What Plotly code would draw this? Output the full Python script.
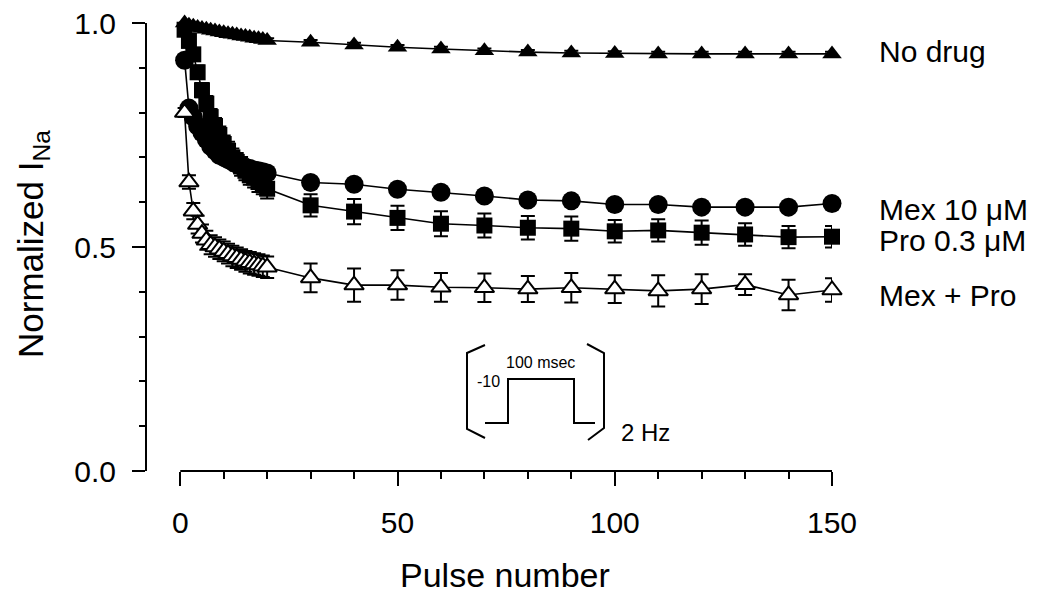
import plotly.graph_objects as go

# ---------------- data ----------------
pulses = list(range(1, 21)) + [30, 40, 50, 60, 70, 80, 90, 100, 110, 120, 130, 140, 150]

no_drug = [1.000, 0.995, 0.993, 0.990, 0.988, 0.986, 0.984, 0.982, 0.980, 0.978,
           0.976, 0.975, 0.973, 0.971, 0.970, 0.968, 0.966, 0.965, 0.963, 0.961,
           0.957, 0.951, 0.946, 0.942, 0.938, 0.935, 0.933, 0.932, 0.931, 0.931,
           0.931, 0.931, 0.931]
no_drug_err = [0.005] * 33

mex = [0.917, 0.810, 0.790, 0.770, 0.755, 0.740, 0.725, 0.715, 0.705, 0.700,
       0.695, 0.690, 0.685, 0.680, 0.678, 0.675, 0.672, 0.670, 0.668, 0.665,
       0.644, 0.640, 0.629, 0.622, 0.614, 0.605, 0.603, 0.595, 0.595, 0.589,
       0.589, 0.589, 0.597]
mex_err = [0.010] * 20 + [0.008] * 13

pro = [0.985, 0.960, 0.930, 0.890, 0.850, 0.820, 0.790, 0.770, 0.750, 0.730,
       0.715, 0.700, 0.690, 0.680, 0.670, 0.660, 0.655, 0.645, 0.640, 0.630,
       0.593, 0.579, 0.565, 0.552, 0.548, 0.543, 0.541, 0.535, 0.537, 0.532,
       0.528, 0.522, 0.523]
pro_err = [0.010, 0.012, 0.014, 0.015, 0.016, 0.017, 0.018, 0.018, 0.019, 0.019,
           0.020, 0.020, 0.020, 0.021, 0.021, 0.021, 0.022, 0.022, 0.022, 0.022,
           0.025, 0.028, 0.027, 0.028, 0.027, 0.026, 0.027, 0.025, 0.025, 0.027,
           0.025, 0.025, 0.024]

mexpro = [0.800, 0.645, 0.580, 0.550, 0.530, 0.515, 0.505, 0.500, 0.495, 0.490,
          0.485, 0.480, 0.476, 0.472, 0.468, 0.465, 0.462, 0.460, 0.457, 0.455,
          0.431, 0.415, 0.415, 0.410, 0.409, 0.406, 0.409, 0.406, 0.402, 0.406,
          0.416, 0.393, 0.404]
mexpro_err = [0.010, 0.015, 0.018, 0.020, 0.020, 0.021, 0.021, 0.022, 0.022, 0.022,
              0.022, 0.023, 0.023, 0.023, 0.023, 0.024, 0.024, 0.024, 0.024, 0.024,
              0.032, 0.037, 0.033, 0.032, 0.032, 0.029, 0.033, 0.031, 0.035, 0.033,
              0.023, 0.034, 0.026]

series_labels = ["No drug", "Mex 10 μM", "Pro 0.3 μM", "Mex + Pro"]
x_ticks = [0, 50, 100, 150]
y_ticks = [0.0, 0.5, 1.0]

# ---------------- layout geometry ----------------
W, H = 1050, 597
ML, MR, MT, MB = 147, 218, 23, 126
PW = W - ML - MR
PH = H - MT - MB
X_RIGHT = 150
X_LEFT = X_RIGHT - PW / 4.345
FONT = "Arial, Liberation Sans, sans-serif"


def px(xpix):
    return (xpix - ML) / PW


def py(ypix):
    return (H - MB - ypix) / PH


fig = go.Figure()


def add_series(y, err, symbol, fill, size, name):
    fig.add_trace(go.Scatter(
        x=pulses, y=y, name=name, mode="lines+markers",
        line=dict(color="black", width=1.6),
        marker=dict(symbol=symbol, size=size, color=fill,
                    line=dict(color="black", width=2 if fill == "white" else 0)),
        error_y=dict(type="data", array=err, visible=True, color="black",
                     thickness=2, width=7),
        cliponaxis=False, showlegend=False,
    ))


add_series(pro, pro_err, "square", "black", 16, series_labels[2])
add_series(mex, mex_err, "circle", "black", 19, series_labels[1])
add_series(no_drug, no_drug_err, "triangle-up", "black", 17, series_labels[0])
add_series(mexpro, mexpro_err, "triangle-up", "white", 17, series_labels[3])

# x axis line (detached style: spans 0..150 only)
fig.add_shape(type="line", xref="x", yref="paper", x0=0, x1=150, y0=0, y1=0,
              line=dict(color="black", width=2))

# series labels on right
label_y = [51, 209, 240, 295]
annotations = []
for lab, yy in zip(series_labels, label_y):
    annotations.append(dict(text=lab, xref="paper", yref="paper", x=px(877), y=py(yy),
                            xanchor="left", yanchor="middle", showarrow=False,
                            font=dict(family=FONT, size=30, color="black")))

# axis titles
annotations.append(dict(text="Pulse number", xref="paper", yref="paper",
                        x=px(505), y=py(575), xanchor="center", yanchor="middle",
                        showarrow=False, font=dict(family=FONT, size=34, color="black")))
annotations.append(dict(text="Normalized I<sub>Na</sub>", xref="paper", yref="paper",
                        x=px(33), y=py(244), xanchor="center", yanchor="middle",
                        textangle=-90, showarrow=False,
                        font=dict(family=FONT, size=35, color="black")))

# ---------------- inset: voltage protocol ----------------
inset_lines = [
    # left bracket
    [(485, 345), (467, 353), (467, 429), (485, 438)],
    # right bracket
    [(587, 344), (604, 353), (604, 428), (588, 440)],
    # pulse
    [(485, 423), (508, 423), (508, 379), (574, 379), (574, 423), (595, 423)],
]
for pts in inset_lines:
    path = "M " + " L ".join(f"{px(a):.5f},{py(b):.5f}" for a, b in pts)
    fig.add_shape(type="path", xref="paper", yref="paper", path=path,
                  line=dict(color="black", width=2))

annotations.append(dict(text="100 msec", xref="paper", yref="paper", x=px(540), y=py(362),
                        xanchor="center", yanchor="middle", showarrow=False,
                        font=dict(family=FONT, size=16, color="black")))
annotations.append(dict(text="-10", xref="paper", yref="paper", x=px(502), y=py(381),
                        xanchor="right", yanchor="middle", showarrow=False,
                        font=dict(family=FONT, size=16, color="black")))
annotations.append(dict(text="2 Hz", xref="paper", yref="paper", x=px(619), y=py(432),
                        xanchor="left", yanchor="middle", showarrow=False,
                        font=dict(family=FONT, size=24, color="black")))

fig.update_layout(
    width=W, height=H,
    margin=dict(l=ML, r=MR, t=MT, b=MB, pad=0, autoexpand=False),
    paper_bgcolor="white", plot_bgcolor="white",
    font=dict(family=FONT, color="black"),
    annotations=annotations,
    xaxis=dict(range=[X_LEFT, X_RIGHT], tickvals=x_ticks, ticks="outside", ticklen=14,
               tickwidth=2, tickcolor="black", showline=False, showgrid=False,
               zeroline=False, tickfont=dict(family=FONT, size=30, color="black"),
               ticklabelstandoff=11, automargin=False,
               minor=dict(dtick=10, tick0=0, ticks="outside", ticklen=7, tickwidth=2,
                          tickcolor="black", showgrid=False)),
    yaxis=dict(range=[0, 1], tickvals=y_ticks, tickformat=".1f", ticks="outside",
               ticklen=13, tickwidth=2, tickcolor="black", showline=True, linewidth=2,
               linecolor="black", showgrid=False, zeroline=False,
               tickfont=dict(family=FONT, size=30, color="black"), ticklabelstandoff=10,
               automargin=False,
               minor=dict(dtick=0.1, tick0=0, ticks="outside", ticklen=6, tickwidth=2,
                          tickcolor="black", showgrid=False)),
)

fig.write_html("out.html",
               config={"displayModeBar": False},
               post_script="document.body.style.margin='0';document.body.style.overflow='hidden';")
